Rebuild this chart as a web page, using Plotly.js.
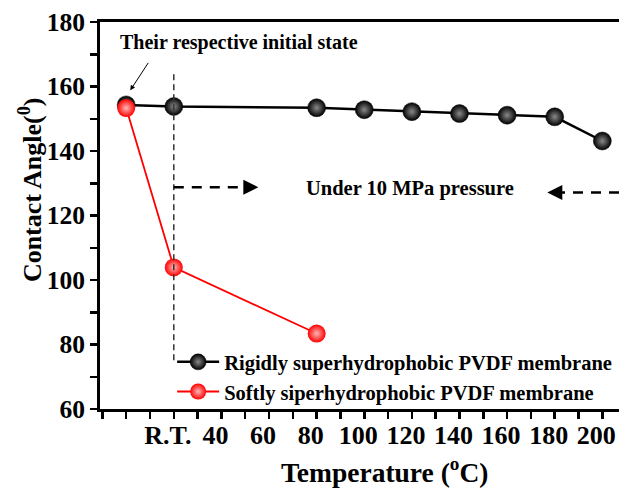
<!DOCTYPE html>
<html>
<head>
<meta charset="utf-8">
<script src="https://cdn.plot.ly/plotly-3.0.1.min.js"></script>
<style>html,body{margin:0;padding:0;background:#fff;}#chart{width:619px;height:488px;}</style>
</head>
<body>
<div id="chart"></div>
<script>
// Data
var rigidX = [0, 20, 80, 100, 120, 140, 160, 180, 200];
var rigidY = [154.3, 153.8, 153.4, 152.8, 152.2, 151.6, 151.1, 150.6, 143.1];
var softX = [0, 20, 80];
var softY = [153.3, 103.9, 83.4];
var xTickVals = [-10, 0, 10, 20, 30, 40, 50, 60, 70, 80, 90, 100, 110, 120, 130, 140, 150, 160, 170, 180, 190, 200];
var xTickText = ['', '', '', 'R.T.', '', '40', '', '60', '', '80', '', '100', '', '120', '', '140', '', '160', '', '180', '', '200'];
var yTickVals = [60, 70, 80, 90, 100, 110, 120, 130, 140, 150, 160, 170, 180];
var yTickText = ['60', '', '80', '', '100', '', '120', '', '140', '', '160', '', '180'];
var seriesNames = ['Rigidly superhydrophobic PVDF membrane', 'Softly siperhydrophobic PVDF membrane'];

var F = 'Liberation Serif, Times New Roman, serif';

var traces = [
  {
    x: rigidX, y: rigidY, name: seriesNames[0], mode: 'lines+markers',
    line: {color: '#000', width: 2.5},
    marker: {size: 18, color: '#000', gradient: {type: 'radial', color: '#8a8a8a'}, line: {width: 0.5, color: '#000'}},
    cliponaxis: false
  },
  {
    x: softX, y: softY, name: seriesNames[1], mode: 'lines+markers',
    line: {color: '#ff0000', width: 1.8},
    marker: {size: 18, color: '#ff0000', gradient: {type: 'radial', color: '#ffb8b8'}, line: {width: 0}},
    cliponaxis: false
  }
];

var layout = {
  width: 619, height: 488,
  margin: {l: 100, r: 0, t: 22, b: 79, autoexpand: false},
  paper_bgcolor: '#fff', plot_bgcolor: '#fff',
  font: {family: F, color: '#000', weight: 'bold'},
  showlegend: true,
  legend: {
    x: 0.139, y: 0.173, xanchor: 'left', yanchor: 'top',
    bgcolor: 'rgba(0,0,0,0)', borderwidth: 0, itemwidth: 42,
    font: {family: F, size: 20.5, color: '#000', weight: 'bold'},
    tracegroupgap: 0
  },
  xaxis: {
    range: [-11, 207], showgrid: false, zeroline: false,
    showline: true, linecolor: '#000', linewidth: 3, mirror: true,
    ticks: 'outside', ticklen: 7, tickwidth: 2.5, tickcolor: '#000',
    tickmode: 'array', tickvals: xTickVals, ticktext: xTickText,
    ticklabeloverflow: 'allow', ticklabelstandoff: -6, ticklabelshift: -6,
    tickfont: {family: F, size: 26, color: '#000', weight: 'bold'}
  },
  yaxis: {
    range: [60, 180], showgrid: false, zeroline: false,
    showline: true, linecolor: '#000', linewidth: 3, mirror: false,
    ticks: 'outside', ticklen: 7, tickwidth: 2.5, tickcolor: '#000',
    tickmode: 'array', tickvals: yTickVals, ticktext: yTickText,
    tickfont: {family: F, size: 25.5, color: '#000', weight: 'bold'}
  },
  shapes: [
    {type: 'line', xref: 'x', yref: 'y', x0: 20, x1: 20, y0: 163.8, y1: 75,
     line: {color: '#333', width: 1.5, dash: '6px,4px'}},
    {type: 'line', xref: 'x', yref: 'y', x0: 20, x1: 51, y0: 128.75, y1: 128.75,
     line: {color: '#000', width: 2.5, dash: '10px,8px'}},
    {type: 'line', xref: 'x', yref: 'y', x0: 207, x1: 181, y0: 127.1, y1: 127.1,
     line: {color: '#000', width: 2.5, dash: '10px,8px'}}
  ],
  annotations: [
    {xref: 'paper', yref: 'paper', x: 0.549, y: -0.158, xanchor: 'center', yanchor: 'middle',
     text: 'Temperature (<sup>o</sup>C)', showarrow: false,
     font: {family: F, size: 27.5, color: '#000', weight: 'bold'}},
    {xref: 'paper', yref: 'paper', x: -0.135, y: 0.568, xanchor: 'center', yanchor: 'middle',
     text: 'Contact Angle(<sup>0</sup>)', textangle: -90, showarrow: false,
     font: {family: F, size: 26, color: '#000', weight: 'bold'}},
    {xref: 'x', yref: 'y', x: 47.5, y: 173.7, xanchor: 'center', yanchor: 'middle',
     text: 'Their respective initial state', showarrow: false,
     font: {family: F, size: 20, color: '#000', weight: 'bold'}},
    {xref: 'x', yref: 'y', x: 1.7, y: 158.8, text: '', showarrow: true,
     ax: 19, ay: -29, arrowhead: 2, arrowsize: 1, arrowwidth: 1, arrowcolor: '#000', standoff: 0},
    {xref: 'x', yref: 'y', x: 119.3, y: 128.3, xanchor: 'center', yanchor: 'middle',
     text: 'Under 10 MPa pressure', showarrow: false,
     font: {family: F, size: 20.5, color: '#000', weight: 'bold'}},
    {xref: 'x', yref: 'y', x: 55.5, y: 128.75, text: '', showarrow: true,
     ax: -12, ay: 0, arrowhead: 2, arrowsize: 1.2, arrowwidth: 2.5, arrowcolor: '#000', standoff: 0},
    {xref: 'x', yref: 'y', x: 176.9, y: 127.1, text: '', showarrow: true,
     ax: 12, ay: 0, arrowhead: 2, arrowsize: 1.2, arrowwidth: 2.5, arrowcolor: '#000', standoff: 0}
  ]
};

Plotly.newPlot('chart', traces, layout, {displayModeBar: false, staticPlot: true});
</script>
</body>
</html>
